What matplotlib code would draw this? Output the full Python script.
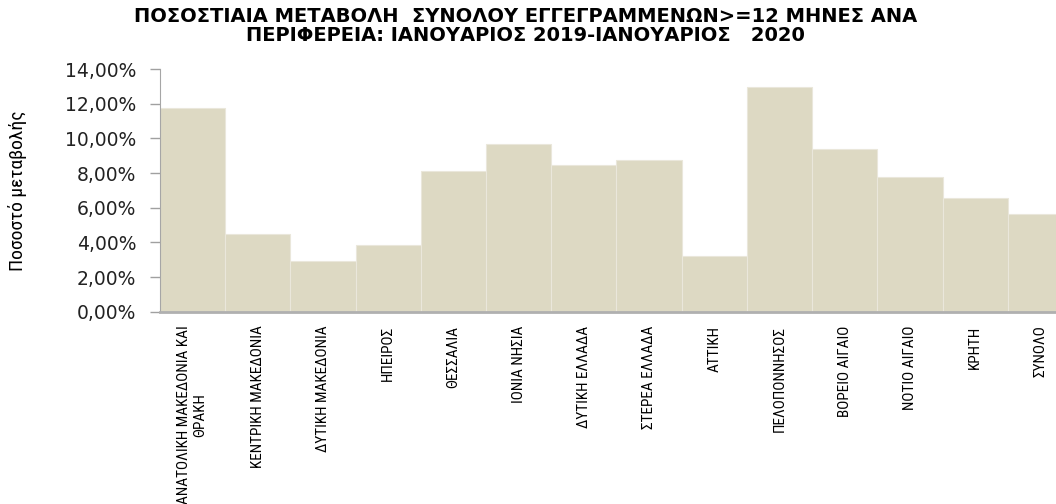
import matplotlib
matplotlib.use('Agg')
import matplotlib.pyplot as plt
from matplotlib import font_manager

# data
regions = ['ΑΝΑΤΟΛΙΚΗ ΜΑΚΕΔΟΝΙΑ ΚΑΙ\nΘΡΑΚΗ', 'ΚΕΝΤΡΙΚΗ ΜΑΚΕΔΟΝΙΑ', 'ΔΥΤΙΚΗ ΜΑΚΕΔΟΝΙΑ',
           'ΗΠΕΙΡΟΣ', 'ΘΕΣΣΑΛΙΑ', 'ΙΟΝΙΑ ΝΗΣΙΑ', 'ΔΥΤΙΚΗ ΕΛΛΑΔΑ', 'ΣΤΕΡΕΑ ΕΛΛΑΔΑ',
           'ΑΤΤΙΚΗ', 'ΠΕΛΟΠΟΝΝΗΣΟΣ', 'ΒΟΡΕΙΟ ΑΙΓΑΙΟ', 'ΝΟΤΙΟ ΑΙΓΑΙΟ', 'ΚΡΗΤΗ', 'ΣΥΝΟΛΟ']
change = [11.73, 4.47, 2.95, 3.83, 8.13, 9.66, 8.46, 8.74,
          3.21, 12.97, 9.41, 7.79, 6.58, 5.61]
yticks = [0, 2, 4, 6, 8, 10, 12, 14]
ytick_labels = ['0,00%', '2,00%', '4,00%', '6,00%', '8,00%', '10,00%', '12,00%', '14,00%']

title = ('ΠΟΣΟΣΤΙΑΙΑ ΜΕΤΑΒΟΛΗ  ΣΥΝΟΛΟΥ ΕΓΓΕΓΡΑΜΜΕΝΩΝ>=12 ΜΗΝΕΣ ΑΝΑ\n'
         'ΠΕΡΙΦΕΡΕΙΑ: ΙΑΝΟΥΑΡΙΟΣ 2019-ΙΑΝΟΥΑΡΙΟΣ   2020')

# pick a narrow font if there is one
names = {f.name for f in font_manager.fontManager.ttflist}
narrow = 'DejaVu Sans'
for cand in ['Liberation Sans Narrow', 'DejaVu Sans Condensed', 'Roboto Condensed']:
    if cand in names:
        narrow = cand
        break

fig = plt.figure(figsize=(10.56, 5.04), dpi=100)
ax = fig.add_axes([0.1515, 0.3815, 0.8646, 0.4815])

x = list(range(len(change)))
ax.bar(x, change, width=1.0, color='#DDD9C3', edgecolor='#EAE7DB', linewidth=0.8)

ax.set_xlim(-0.5, len(change) - 0.5)
ax.set_ylim(0, 14)
ax.set_yticks(yticks)
ax.set_yticklabels(ytick_labels, fontsize=13.5, family='DejaVu Sans', color='#222222')
ax.tick_params(axis='y', length=7, width=1, color='#A0A0A0', pad=10)

ax.set_xticks(x)
ax.set_xticklabels(regions, rotation=90, fontsize=11, family=narrow,
                   multialignment='center', va='top')
ax.tick_params(axis='x', length=0, pad=10)

for side in ['top', 'right']:
    ax.spines[side].set_visible(False)
ax.spines['left'].set_color('#A6A6A6')
ax.spines['bottom'].set_color('#B0B0B0')
ax.spines['bottom'].set_linewidth(2)

ax.set_ylabel('Ποσοστό μεταβολής', family=narrow, fontsize=14, labelpad=27)

fig.text(0.498, 0.986, title, ha='center', va='top', fontsize=14,
         fontweight='bold', family='DejaVu Sans', linespacing=1.02)

fig.savefig('out.png', dpi=100)
